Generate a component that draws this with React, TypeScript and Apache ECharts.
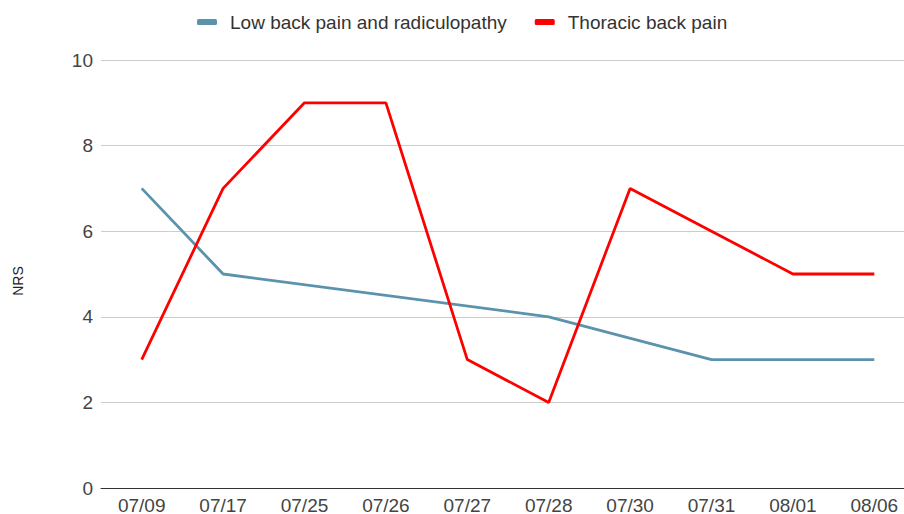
import React, { useEffect, useRef } from "react";
import * as echarts from "echarts";

const categories = ["07/09", "07/17", "07/25", "07/26", "07/27", "07/28", "07/30", "07/31", "08/01", "08/06"];
const lowBackPain = [7, 5, null, null, null, 4, null, 3, 3, 3];
const thoracicBackPain = [3, 7, 9, 9, 3, 2, 7, 6, 5, 5];
const yTicks = { min: 0, max: 10, interval: 2 };

export default function App() {
  const ref = useRef<HTMLDivElement>(null);
  useEffect(() => {
    document.body.style.margin = "0";
    const chart = echarts.init(ref.current!, null, { renderer: "svg" });
    const font = "Liberation Sans, Arial, sans-serif";
    chart.setOption({
      animation: false,
      textStyle: { fontFamily: font },
      legend: {
        top: 7,
        left: 192,
        itemWidth: 20,
        itemHeight: 6,
        itemGap: 28,
        textStyle: { fontSize: 19, lineHeight: 20, color: "#333", fontFamily: font, padding: [0, 0, 0, 8] },
        data: [
          { name: "Low back pain and radiculopathy", icon: "roundRect" },
          { name: "Thoracic back pain", icon: "roundRect" },
        ],
      },
      grid: { left: 101, right: -11, top: 60, bottom: 26, containLabel: false, outerBoundsMode: "none" },
      xAxis: {
        type: "category",
        data: categories,
        boundaryGap: true,
        axisLine: { lineStyle: { color: "#333", width: 1 } },
        axisTick: { show: false },
        axisLabel: { color: "#444", fontSize: 19, lineHeight: 20, margin: 7, fontFamily: font },
      },
      yAxis: {
        type: "value",
        min: yTicks.min,
        max: yTicks.max,
        interval: yTicks.interval,
        name: "NRS",
        nameLocation: "middle",
        nameGap: 76,
        nameTextStyle: { color: "#222", fontSize: 14, fontFamily: font, padding: [0, 14, 0, 0] },
        axisLine: { show: false },
        axisTick: { show: false },
        axisLabel: { color: "#444", fontSize: 19, margin: 8, fontFamily: font },
        splitLine: { lineStyle: { color: "#cccccc", width: 1 } },
      },
      series: [
        {
          name: "Low back pain and radiculopathy",
          type: "line",
          data: lowBackPain,
          connectNulls: true,
          showSymbol: false,
          symbol: "none",
          itemStyle: { color: "#5b93ad" },
          lineStyle: { color: "#5b93ad", width: 2.8 },
        },
        {
          name: "Thoracic back pain",
          type: "line",
          data: thoracicBackPain,
          showSymbol: false,
          symbol: "none",
          itemStyle: { color: "#ff0000" },
          lineStyle: { color: "#ff0000", width: 2.8 },
        },
      ],
    });
    return () => chart.dispose();
  }, []);
  return <div ref={ref} style={{ width: 904, height: 514 }} />;
}
